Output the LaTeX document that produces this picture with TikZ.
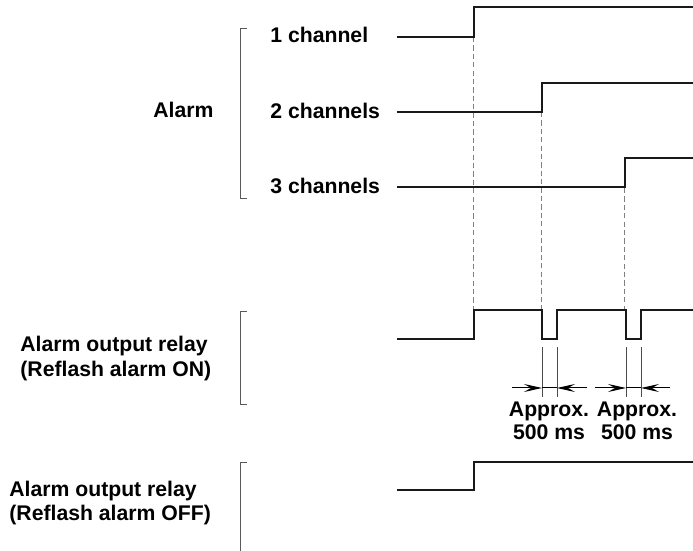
\documentclass[tikz,border=0pt]{standalone}
\usepackage{fontspec}
\setmainfont{Liberation Sans}
\usetikzlibrary{arrows.meta}
\begin{document}
\begin{tikzpicture}[x=0.5pt,y=-0.5pt,
  lbl/.style={font=\fontsize{10.6}{12.5}\selectfont\bfseries, inner sep=0pt, anchor=base west},
  lblc/.style={font=\fontsize{10.6}{12.5}\selectfont\bfseries, inner sep=0pt, anchor=base},
  sig/.style={line width=1pt, black!90, line join=miter},
  brk/.style={line width=0.45pt, black!65},
  guide/.style={line width=0.5pt, black!50, dash pattern=on 2.6pt off 1.6pt},
  ext/.style={line width=0.4pt, black!70},
  dim/.style={line width=0.5pt, black, -{Stealth[length=9pt,width=4pt,inset=3.5pt]}}]
\useasboundingbox (0,0) rectangle (693,551);

% labels
\node[lbl] (l1) at (270,43) {1 channel};
\node[lbl] (l2) at (270,119) {2 channels};
\node[lbl] (l3) at (270,194) {3 channels};
\node[lbl] (alarm) at (153,118) {Alarm};
\node[lbl] (on1) at (20,352) {Alarm output relay};
\node[lbl] (on2) at (20,377) {(Reflash alarm ON)};
\node[lbl] (off1) at (9,497) {Alarm output relay};
\node[lbl] (off2) at (9,521) {(Reflash alarm OFF)};
\node[lblc] (ap1) at (549,417) {Approx.};
\node[lblc] (ms1) at (549,440) {500 ms};
\node[lblc] (ap2) at (637,417) {Approx.};
\node[lblc] (ms2) at (637,440) {500 ms};

% brackets
\draw[brk] (247,28) -- (240,28) -- (240,198) -- (247,198);
\draw[brk] (247,311) -- (240,311) -- (240,404) -- (247,404);
\draw[brk] (247,462) -- (240,462) -- (240,551);

% dashed guides
\draw[guide] (474,37) -- (474,310);
\draw[guide] (542,112) -- (542,310);
\draw[guide] (625,188) -- (625,310);

% channel signals
\draw[sig] (397,37) -- (474,37) -- (474,7.5) -- (693,7.5);
\draw[sig] (397,112.5) -- (542,112.5) -- (542,83.5) -- (693,83.5);
\draw[sig] (397,187.5) -- (625,187.5) -- (625,158.5) -- (693,158.5);

% relay ON
\draw[sig] (397,339) -- (474,339) -- (474,310) -- (542,310) -- (542,339) -- (557,339)
  -- (557,310) -- (626,310) -- (626,339) -- (641,339) -- (641,310) -- (693,310);

% relay OFF
\draw[sig] (397,490) -- (474,490) -- (474,462) -- (693,462);

% extension lines
\draw[ext] (542,347) -- (542,397);
\draw[ext] (557,347) -- (557,397);
\draw[ext] (626,347) -- (626,397);
\draw[ext] (641,347) -- (641,397);

% dimension arrows
\coordinate (a1) at (512,388);
\coordinate (a2) at (542,388);
\coordinate (a3) at (557,388);
\coordinate (a4) at (587,388);
\draw[dim] (a1) -- (a2);
\draw[line width=0.5pt] (a2) -- (a3);
\draw[dim] (a4) -- (a3);
\coordinate (b1) at (595,388);
\coordinate (b2) at (626,388);
\coordinate (b3) at (641,388);
\coordinate (b4) at (670,388);
\draw[dim] (b1) -- (b2);
\draw[line width=0.5pt] (b2) -- (b3);
\draw[dim] (b4) -- (b3);
\end{tikzpicture}
\end{document}
